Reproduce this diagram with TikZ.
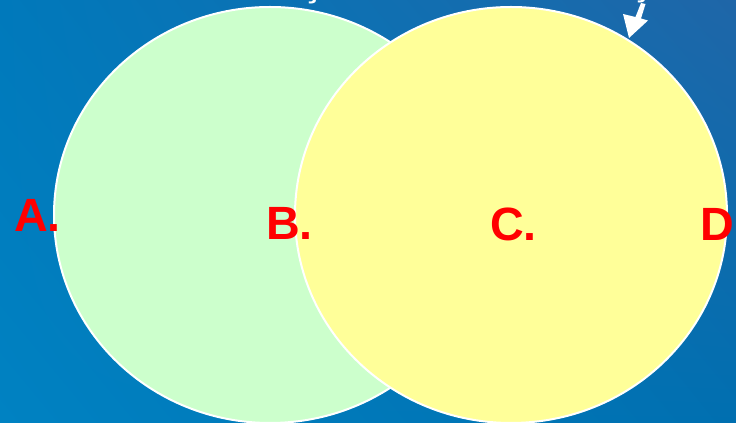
\documentclass[tikz,border=0pt]{standalone}
\usepackage{fontspec}
\setmainfont{Liberation Sans}
\usetikzlibrary{shadings}
\definecolor{bgA}{HTML}{0082C2}
\definecolor{bgB}{HTML}{0079BB}
\definecolor{bgC}{HTML}{006FB0}
\definecolor{bgD}{HTML}{1F66A8}
\definecolor{greenfill}{HTML}{CCFFCC}
\definecolor{yellowfill}{HTML}{FFFF99}
\definecolor{labred}{HTML}{FF0000}
\begin{document}
\begin{tikzpicture}[x=0.75pt,y=-0.75pt,
  setfill/.style={draw=white,line width=1.5pt},
  lab/.style={text=labred,font=\bfseries\fontsize{35}{40}\selectfont,inner sep=0pt,anchor=base west},
  frag/.style={text=white,font=\bfseries\fontsize{27}{30}\selectfont,inner sep=0pt,anchor=base}]
\useasboundingbox (0,0) rectangle (736,423);
\shade[lower left=bgA,upper left=bgB,lower right=bgC,upper right=bgD] (0,0) rectangle (736,423);
\begin{scope}
\clip (0,0) rectangle (736,423);
\node[frag] (f1) at (313,-3) {ç};
\node[frag] (f2) at (418,-9) {p};
\node[frag] (f3) at (642,-4) {ç};
\end{scope}
\draw[setfill,fill=greenfill] (270,215) ellipse [x radius=162pt, y radius=156pt];
\draw[setfill,fill=yellowfill] (511,215) ellipse [x radius=162pt, y radius=156pt];
\coordinate (tailtop) at (643,3);
\coordinate (tip) at (629,38);
\fill[white] (tip) -- (623,14) -- (635.5,17) -- (641,3) -- (645.5,4) -- (641,18.5) -- (648,20.5) -- cycle;
\node[lab] (A) at (14,232) {A.};
\node[lab] (B) at (266,240) {B.};
\node[lab] (C) at (490,241) {C.};
\node[lab] (D) at (700,241) {D.};
\end{tikzpicture}
\end{document}
